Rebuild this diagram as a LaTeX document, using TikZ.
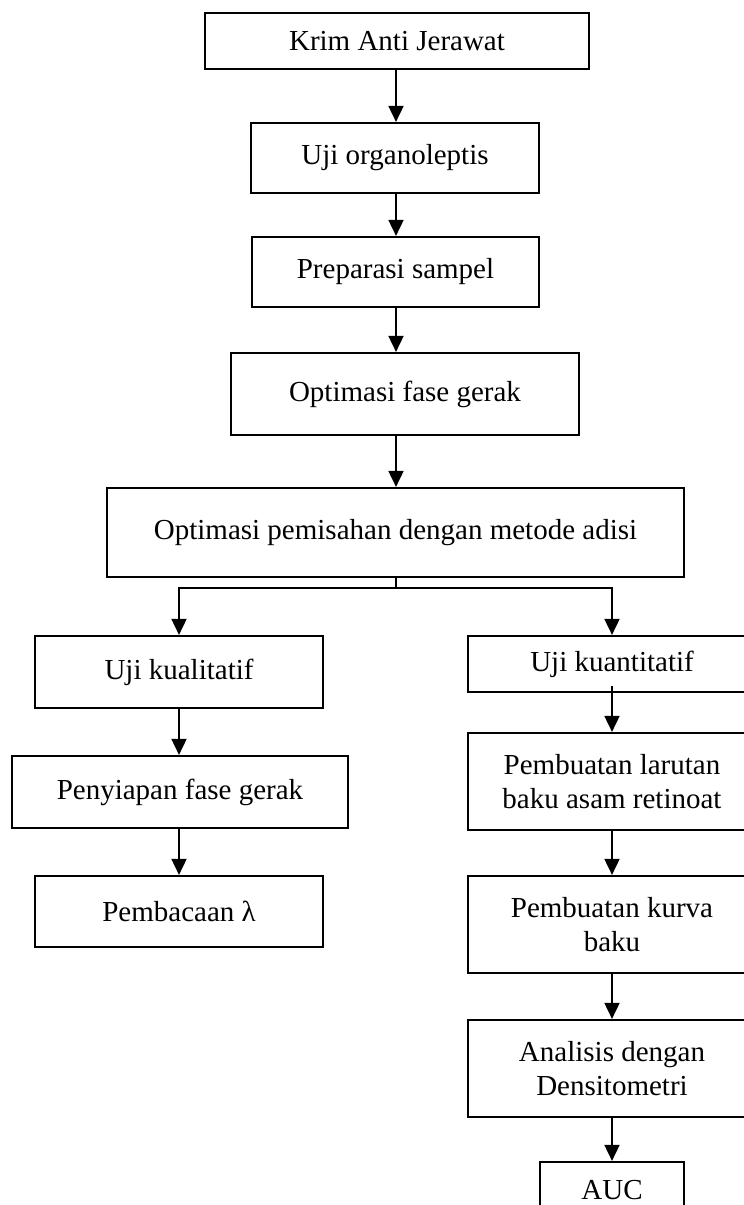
\documentclass[tikz,border=0pt]{standalone}
\usepackage{fontspec}
\setmainfont{Liberation Serif}
\usetikzlibrary{arrows.meta,calc}
\begin{document}
\begin{tikzpicture}[x=0.5pt,y=-0.5pt,
  box/.style={draw, line width=1.1pt, inner sep=0pt, align=center,
    font=\fontsize{14.5}{16.6}\selectfont},
  arr/.style={line width=0.9pt, -{Triangle[length=8pt,width=7.5pt]}},
  ln/.style={line width=0.9pt}]
\clip (0,0) rectangle (744,1205);
\fill[white] (0,0) rectangle (744,1205);
% main column
\node[box, minimum width=192pt, minimum height=28pt] (b1) at (397,41) {Krim Anti Jerawat};
\node[box, minimum width=144pt, minimum height=35pt] (b2) at (395,158) {Uji organoleptis};
\node[box, minimum width=143.5pt, minimum height=35pt] (b3) at (395.5,272) {Preparasi sampel};
\node[box, minimum width=174pt, minimum height=41pt] (b4) at (405,394) {Optimasi fase gerak};
\node[box, minimum width=288.5pt, minimum height=44.5pt] (b5) at (395.5,532.5) {Optimasi pemisahan dengan metode adisi};
% left column
\node[box, minimum width=144pt, minimum height=36pt] (l1) at (179,672) {Uji kualitatif};
\node[box, minimum width=168pt, minimum height=36pt] (l2) at (180,792) {Penyiapan fase gerak};
\node[box, minimum width=144pt, minimum height=35.5pt] (l3) at (179,911.5) {Pembacaan λ};
% right column
\node[box, minimum width=144pt, minimum height=28pt] (r1) at (612,664) {Uji kuantitatif};
\node[box, minimum width=144pt, minimum height=48.5pt] (r2) at (612,781.5) {Pembuatan larutan\\baku asam retinoat};
\node[box, minimum width=144pt, minimum height=48.5pt] (r3) at (612,924.5) {Pembuatan kurva\\baku};
\node[box, minimum width=144pt, minimum height=48.5pt] (r4) at (612,1068.5) {Analisis dengan\\Densitometri};
\node[box, minimum width=72pt, minimum height=28pt] (r5) at (612,1190) {AUC};
% connectors
\coordinate (sp) at (396,0);
\draw[arr] (b1.south -| sp) -- (b2.north -| sp);
\draw[arr] (b2.south -| sp) -- (b3.north -| sp);
\draw[arr] (b3.south -| sp) -- (b4.north -| sp);
\draw[arr] (b4.south -| sp) -- (b5.north -| sp);
\coordinate (j) at (396,588);
\draw[ln] (b5.south -| sp) -- (j);
\draw[arr] (j) -| (l1.north);
\draw[arr] (j) -| (r1.north);
\draw[arr] (l1.south) -- (l1.south |- l2.north);
\draw[arr] (l1.south |- l2.south) -- (l3.north);
\draw[arr] ($(r1.south)+(0,-7)$) -- (r2.north);
\draw[arr] (r2.south) -- (r3.north);
\draw[arr] (r3.south) -- (r4.north);
\draw[arr] (r4.south) -- (r5.north);
\end{tikzpicture}
\end{document}
